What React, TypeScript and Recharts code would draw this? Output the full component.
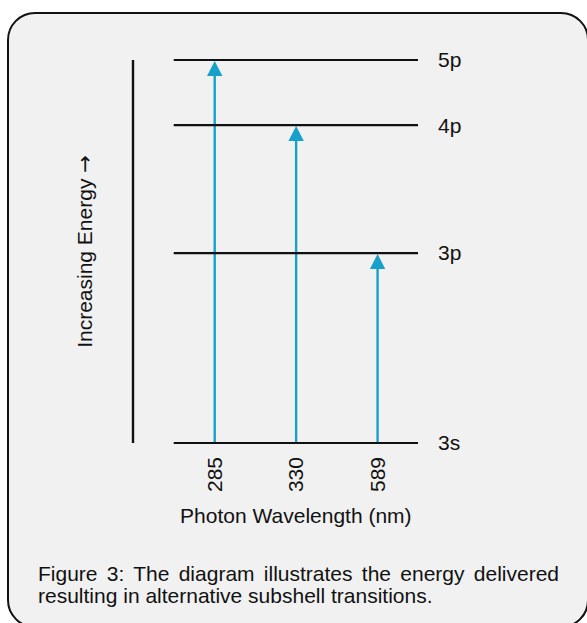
import React from "react";
import {
  ComposedChart,
  Bar,
  XAxis,
  YAxis,
  ReferenceLine,
} from "recharts";

const FONT = '"Liberation Sans", Arial, sans-serif';
const ARROW = "#17a0c9";

// subshell energy levels (relative units, 3s = ground)
const levelNames = ["3s", "3p", "4p", "5p"];
const levelEnergy = [0, 49.6, 83, 100];

// transitions out of 3s: wavelength label and the level reached
const wavelengths = ["285", "330", "589"];
const upperLevels = ["5p", "4p", "3p"];

const energyOf = (name: string) => levelEnergy[levelNames.indexOf(name)];

const transitions = wavelengths.map((w, i) => ({
  pos: i + 1,
  wavelength: w,
  energy: energyOf(upperLevels[i]),
}));

const ArrowShape = (props: any) => {
  const { x, y, width, height } = props;
  const cx = x + width / 2;
  const tip = y + 1;
  const head = 15;
  return (
    <g>
      <line x1={cx} y1={y + height} x2={cx} y2={tip + head - 1} stroke={ARROW} strokeWidth={2.4} />
      <polygon
        points={`${cx},${tip} ${cx - 7.7},${tip + head} ${cx + 7.7},${tip + head}`}
        fill={ARROW}
      />
    </g>
  );
};

const WavelengthTick = (props: any) => {
  const { x, y, payload } = props;
  return (
    <text
      x={x}
      y={y}
      dy="0.355em"
      transform={`rotate(-90 ${x} ${y})`}
      textAnchor="end"
      fontSize={21}
      fontFamily={FONT}
      fill="#111"
    >
      {wavelengths[payload.value - 1]}
    </text>
  );
};

// name of the level printed past the right end of its line
const levelLabel = (name: string) => (p: any) => {
  const vb = p.viewBox;
  return (
    <text
      x={vb.x + vb.width + 20}
      y={vb.y}
      dy="0.355em"
      textAnchor="start"
      fontSize={21}
      fontFamily={FONT}
      fill="#111"
    >
      {name}
    </text>
  );
};

export default function App() {
  return (
    <div
      style={{
        position: "absolute",
        left: 0,
        top: 0,
        width: 587,
        height: 623,
        overflow: "hidden",
        background: "#fff",
        fontFamily: FONT,
      }}
    >
      <div
        style={{
          position: "absolute",
          left: 7,
          top: 12,
          width: 582,
          height: 616,
          boxSizing: "border-box",
          border: "2px solid #111",
          borderRadius: 28,
          background: "#f1f1f1",
        }}
      />
      <div style={{ position: "absolute", left: 0, top: 0 }}>
        <ComposedChart
          width={587}
          height={623}
          data={transitions}
          margin={{ top: 60, right: 169, bottom: 100, left: 83 }}
        >
          <XAxis
            dataKey="pos"
            type="number"
            domain={[0, 3.5]}
            ticks={[1, 2, 3]}
            axisLine={false}
            tickLine={false}
            tickSize={0}
            tickMargin={14}
            height={80}
            tick={<WavelengthTick />}
            label={{
              content: (p: any) => {
                const vb = p.viewBox;
                return (
                  <text
                    x={vb.x + (vb.width * 2) / 3.5}
                    y={vb.y + vb.height}
                    textAnchor="middle"
                    fontSize={21}
                    fontFamily={FONT}
                    fill="#111"
                  >
                    Photon Wavelength (nm)
                  </text>
                );
              },
            }}
          />
          <YAxis
            yAxisId="e"
            type="number"
            domain={[0, 100]}
            width={50}
            tick={false}
            tickLine={false}
            axisLine={{ stroke: "#111", strokeWidth: 2.4 }}
            label={{
              content: (p: any) => {
                const vb = p.viewBox;
                const lx = vb.x + 8.5;
                const ly = vb.y + vb.height / 2;
                return (
                  <text
                    x={lx}
                    y={ly}
                    transform={`rotate(-90 ${lx} ${ly})`}
                    textAnchor="middle"
                    fontSize={21}
                    fontFamily={FONT}
                    fill="#111"
                  >
                    Increasing Energy{" "}
                    <tspan fontFamily='"DejaVu Sans", sans-serif'>→</tspan>
                  </text>
                );
              },
            }}
          />
          {levelEnergy.map((e, i) => (
            <ReferenceLine
              key={levelNames[i]}
              yAxisId="e"
              segment={[
                { x: 0.5, y: e },
                { x: 3.5, y: e },
              ]}
              stroke="#111"
              strokeWidth={2.2}
              label={{ content: levelLabel(levelNames[i]) }}
            />
          ))}
          <Bar
            yAxisId="e"
            dataKey="energy"
            barSize={16}
            shape={<ArrowShape />}
            isAnimationActive={false}
          />
        </ComposedChart>
      </div>
      <div
        style={{
          position: "absolute",
          left: 38,
          top: 563,
          width: 521,
          fontSize: 21,
          lineHeight: "22px",
          color: "#111",
        }}
      >
        <div style={{ textAlign: "justify", textAlignLast: "justify" }}>
          Figure 3: The diagram illustrates the energy delivered
        </div>
        <div>resulting in alternative subshell transitions.</div>
      </div>
    </div>
  );
}
